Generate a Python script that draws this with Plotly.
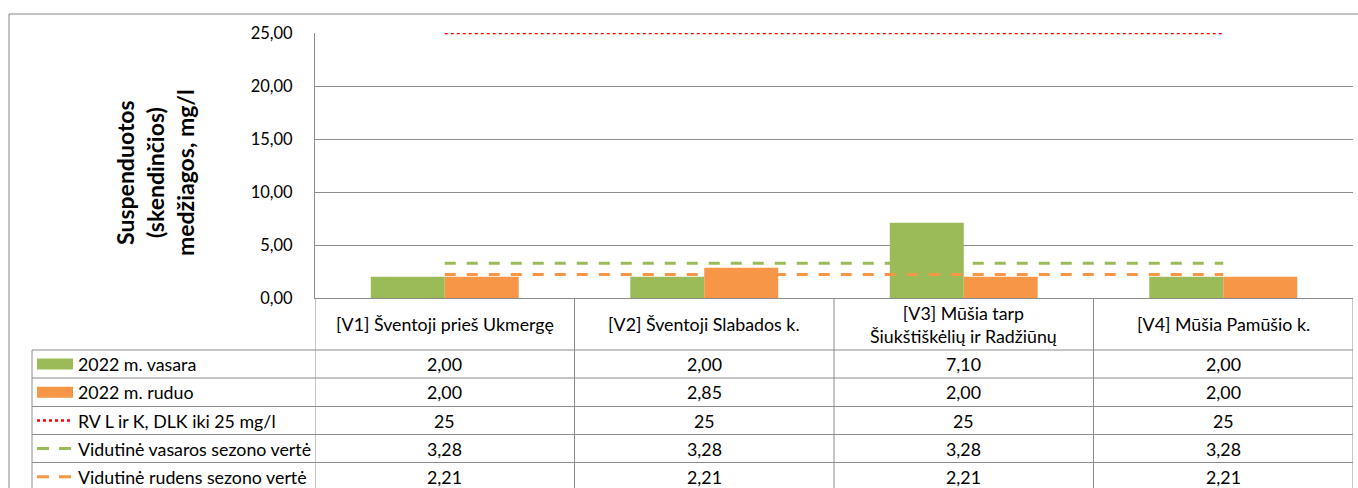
import plotly.graph_objects as go

# duomenys
categories = ["[V1] Šventoji prieš Ukmergę", "[V2] Šventoji Slabados k.",
              "[V3] Mūšia tarp<br>Šiukštiškėlių ir Radžiūnų", "[V4] Mūšia Pamūšio k."]
vasara = [2.00, 2.00, 7.10, 2.00]
ruduo = [2.00, 2.85, 2.00, 2.00]
rv_dlk = [25, 25, 25, 25]
vid_vasara = [3.28, 3.28, 3.28, 3.28]
vid_ruduo = [2.21, 2.21, 2.21, 2.21]

series_names = ["2022 m. vasara", "2022 m. ruduo", "RV L ir K, DLK iki 25 mg/l",
                "Vidutinė vasaros sezono vertė", "Vidutinė rudens sezono vertė"]
y_ticks = [0, 5, 10, 15, 20, 25]

W, H = 1358, 488
GREEN = "#9BBB59"
ORANGE = "#F79646"
RED = "#FF0000"
GRID = "#8C8C8C"
FONT = "Lato"
TS = 17.8  # lentelės šrifto dydis
RED_LINE = dict(color=RED, width=2.5, dash="3px,3px")


def px(x):
    return x / W


def py(y):
    return 1 - y / H


def fmt(v, dec=2):
    return f"{v:.{dec}f}".replace(".", ",")


fig = go.Figure()
fig.add_trace(go.Bar(x=categories, y=vasara, name=series_names[0], marker_color=GREEN,
                     marker_line_width=0))
fig.add_trace(go.Bar(x=categories, y=ruduo, name=series_names[1], marker_color=ORANGE,
                     marker_line_width=0))
fig.add_trace(go.Scatter(x=categories, y=rv_dlk, name=series_names[2], mode="lines",
                         cliponaxis=False, line=RED_LINE))
fig.add_trace(go.Scatter(x=categories, y=vid_vasara, name=series_names[3], mode="lines",
                         cliponaxis=False,
                         line=dict(color=GREEN, width=3, dash="11px,11px")))
fig.add_trace(go.Scatter(x=categories, y=vid_ruduo, name=series_names[4], mode="lines",
                         cliponaxis=False,
                         line=dict(color=ORANGE, width=3, dash="11px,11px")))

shapes = []
line = dict(color=GRID, width=1)
# išorinis rėmelis
shapes.append(dict(type="line", xref="paper", yref="paper", x0=px(9), x1=px(1358),
                   y0=py(14), y1=py(14), line=dict(color="#868686", width=1)))
shapes.append(dict(type="line", xref="paper", yref="paper", x0=px(9), x1=px(9),
                   y0=py(14), y1=0, line=dict(color="#868686", width=1)))

# lentelė
row_lines = [350, 378, 406.5, 434.5, 462.5, 491]
for yl in row_lines:
    shapes.append(dict(type="line", xref="paper", yref="paper", x0=px(32), x1=px(1353),
                       y0=py(yl), y1=py(yl), line=line))
shapes.append(dict(type="line", xref="paper", yref="paper", x0=px(32), x1=px(32),
                   y0=py(350), y1=0, line=line))
for i in range(len(categories) + 1):
    shapes.append(dict(type="line", xref="x", yref="paper", x0=i - 0.5, x1=i - 0.5,
                       y0=py(298), y1=0, line=line))

annotations = []
# kategorijų pavadinimai
for c in categories:
    annotations.append(dict(x=c, xref="x", y=py(324), yref="paper", text=c, showarrow=False,
                            font=dict(size=TS, family=FONT, color="#000"), yanchor="middle"))

rows = [
    (series_names[0], [fmt(v) for v in vasara]),
    (series_names[1], [fmt(v) for v in ruduo]),
    (series_names[2], [fmt(v, 0) for v in rv_dlk]),
    (series_names[3], [fmt(v) for v in vid_vasara]),
    (series_names[4], [fmt(v) for v in vid_ruduo]),
]


def row_mid(r):
    return (row_lines[r] + row_lines[r + 1]) / 2


for r, (name, vals) in enumerate(rows):
    yc = row_mid(r)
    annotations.append(dict(x=px(76), xref="paper", y=py(yc), yref="paper", text=name,
                            showarrow=False, xanchor="left", yanchor="middle",
                            font=dict(size=TS, family=FONT, color="#000")))
    for c, v in zip(categories, vals):
        annotations.append(dict(x=c, xref="x", y=py(yc), yref="paper", text=v,
                                showarrow=False, yanchor="middle",
                                font=dict(size=TS, family=FONT, color="#000")))

# legendos simboliai lentelėje
for r, col in [(0, GREEN), (1, ORANGE)]:
    yc = row_mid(r)
    shapes.append(dict(type="rect", xref="paper", yref="paper", x0=px(37), x1=px(73),
                       y0=py(yc + 5.5), y1=py(yc - 5.5), fillcolor=col, line_width=0))
yc = row_mid(2)
shapes.append(dict(type="line", xref="paper", yref="paper", x0=px(37), x1=px(73),
                   y0=py(yc), y1=py(yc), line=RED_LINE))
for r, col in [(3, GREEN), (4, ORANGE)]:
    yc = row_mid(r)
    shapes.append(dict(type="line", xref="paper", yref="paper", x0=px(37), x1=px(73),
                       y0=py(yc), y1=py(yc), line=dict(color=col, width=3, dash="12px,10px")))

# ašies pavadinimas
annotations.append(dict(x=px(155), xref="paper", y=py(173), yref="paper",
                        xanchor="center", yanchor="middle",
                        text="<b>Suspenduotos<br>(skendinčios)<br>medžiagos, mg/l</b>",
                        textangle=-90, showarrow=False, align="center",
                        font=dict(size=23, family=FONT, color="#000")))

fig.update_layout(
    width=W, height=H,
    margin=dict(l=0, r=0, t=0, b=0, autoexpand=False),
    paper_bgcolor="white", plot_bgcolor="white",
    separators=", ",
    font=dict(family=FONT, size=16, color="#000"),
    barmode="group", bargap=0.43, bargroupgap=0,
    showlegend=False,
    xaxis=dict(domain=[px(315), px(1353)], type="category", range=[-0.5, 3.5],
               showticklabels=False, showgrid=False, showline=True, linecolor=GRID,
               zeroline=False, fixedrange=True, automargin=False),
    yaxis=dict(domain=[py(298), py(33)], range=[0, 25], tickvals=y_ticks,
               tickformat=".2f", showgrid=True, gridcolor=GRID, gridwidth=1,
               showline=True, linecolor=GRID, zeroline=False, ticks="",
               ticklabelstandoff=18, tickfont=dict(size=16.5, family=FONT, color="#000"),
               fixedrange=True, automargin=False),
    shapes=shapes,
    annotations=annotations,
)

post = "document.body.style.margin='0';document.body.style.overflow='hidden';"
fig.write_html("out.html", config={"displayModeBar": False}, post_script=post)
